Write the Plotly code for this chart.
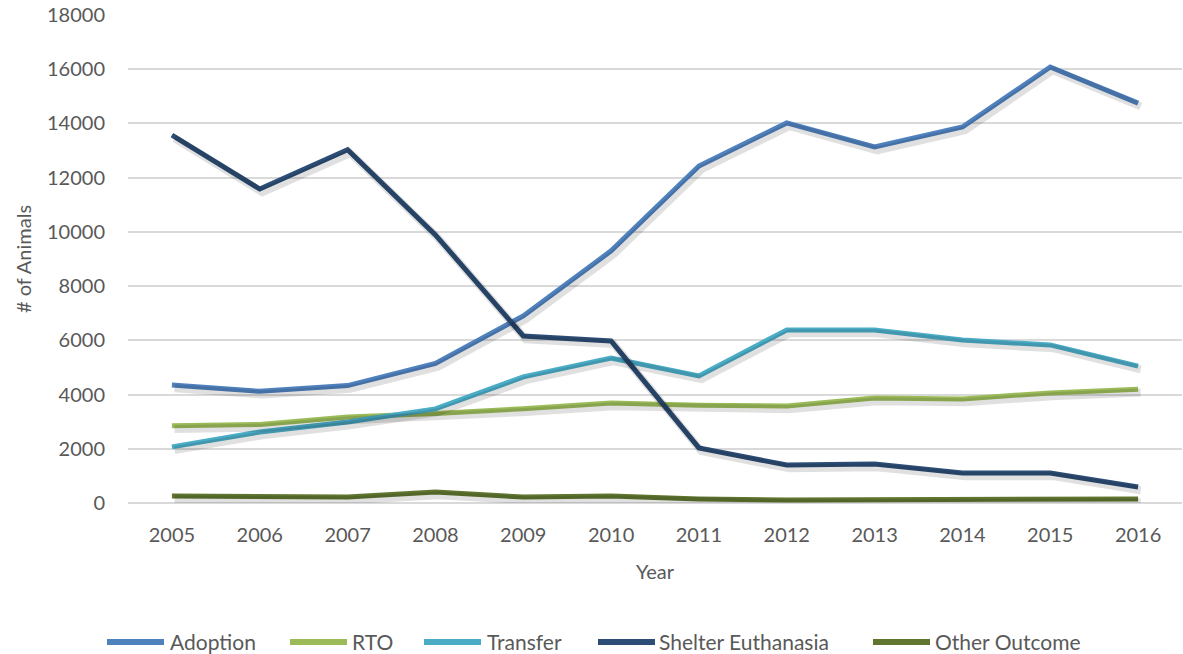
import plotly.graph_objects as go

years = [2005, 2006, 2007, 2008, 2009, 2010, 2011, 2012, 2013, 2014, 2015, 2016]
adoption = [4350, 4120, 4330, 5150, 6900, 9300, 12430, 14020, 13130, 13870, 16080, 14750]
rto = [2850, 2900, 3170, 3300, 3480, 3690, 3610, 3580, 3870, 3840, 4060, 4200]
transfer = [2070, 2620, 2990, 3470, 4650, 5350, 4690, 6380, 6380, 6010, 5830, 5050]
euthanasia = [13570, 11580, 13030, 9890, 6160, 5980, 2030, 1400, 1440, 1110, 1110, 590]
other = [260, 220, 220, 410, 220, 260, 150, 110, 110, 110, 150, 150]
y_ticks = [0, 2000, 4000, 6000, 8000, 10000, 12000, 14000, 16000, 18000]

series = [
    ("Adoption", adoption, "#4F81BD"),
    ("RTO", rto, "#9BBB59"),
    ("Transfer", transfer, "#4BACC6"),
    ("Shelter Euthanasia", euthanasia, "#2C4D75"),
    ("Other Outcome", other, "#5F7530"),
]

FONT = "Lato, 'Open Sans', sans-serif"
TXT = "#595959"

# figure geometry (px)
W, H = 1183, 654
ML, MR, MT, MB = 128, 1, 15, 151
PW, PH = W - ML - MR, H - MT - MB


def px_x(x):
    return (x - ML) / PW


def px_y(y):
    return (H - MB - y) / PH


fig = go.Figure()

# soft drop shadows (drawn on slightly shifted overlay axes)
for name, vals, color in series:
    fig.add_trace(go.Scatter(
        x=years, y=vals, mode="lines", xaxis="x2", yaxis="y2",
        line=dict(color="rgba(0,0,0,0.12)", width=8),
        showlegend=False, hoverinfo="skip"))

for name, vals, color in series:
    fig.add_trace(go.Scatter(
        x=years, y=vals, mode="lines", name=name, showlegend=False,
        line=dict(color=color, width=5)))

# legend drawn as line samples + labels (line start px, label start px)
legend_pos = [(107, 168), (290, 350), (424, 485), (598, 657), (873, 933)]
LEG_Y = 642
shapes, annos = [], []
for (name, vals, color), (x0, xt) in zip(series, legend_pos):
    shapes.append(dict(type="line", xref="paper", yref="paper",
                       x0=px_x(x0), x1=px_x(x0 + 57), y0=px_y(LEG_Y), y1=px_y(LEG_Y),
                       line=dict(color=color, width=6)))
    annos.append(dict(text=name, xref="paper", yref="paper",
                      x=px_x(xt), y=px_y(LEG_Y - 1), xanchor="left", yanchor="middle",
                      showarrow=False, font=dict(size=21, color=TXT, family=FONT)))

fig.update_layout(
    width=W, height=H,
    paper_bgcolor="white", plot_bgcolor="white",
    margin=dict(l=ML, r=MR, t=MT, b=MB, autoexpand=False),
    font=dict(family=FONT, size=20, color=TXT),
    showlegend=False,
    shapes=shapes, annotations=annos,
    xaxis=dict(
        range=[2004.5, 2016.5], tickmode="array", tickvals=years,
        ticktext=[str(y) for y in years],
        showgrid=False, zeroline=False, showline=False,
        ticks="outside", ticklen=14, tickcolor="rgba(0,0,0,0)",
        title=dict(text="Year", font=dict(size=20, color=TXT), standoff=19),
        tickfont=dict(size=20, color=TXT),
    ),
    yaxis=dict(
        range=[0, 18000], tickmode="array", tickvals=y_ticks,
        ticktext=[str(v) for v in y_ticks],
        showgrid=True, gridcolor="#D9D9D9", gridwidth=1.5,
        zeroline=True, zerolinecolor="#D9D9D9", zerolinewidth=1.5,
        showline=False, ticklabeloverflow="allow",
        ticks="outside", ticklen=18, tickcolor="rgba(0,0,0,0)",
        title=dict(text="# of Animals", font=dict(size=20, color=TXT), standoff=10),
        tickfont=dict(size=20, color=TXT),
    ),
    xaxis2=dict(range=[2004.5 - 0.03, 2016.5 - 0.03], overlaying="x",
                visible=False),
    yaxis2=dict(range=[120, 18120], overlaying="y", visible=False),
)

fig.write_html("out.html", config={"displayModeBar": False},
               post_script="document.body.style.margin='0';")
